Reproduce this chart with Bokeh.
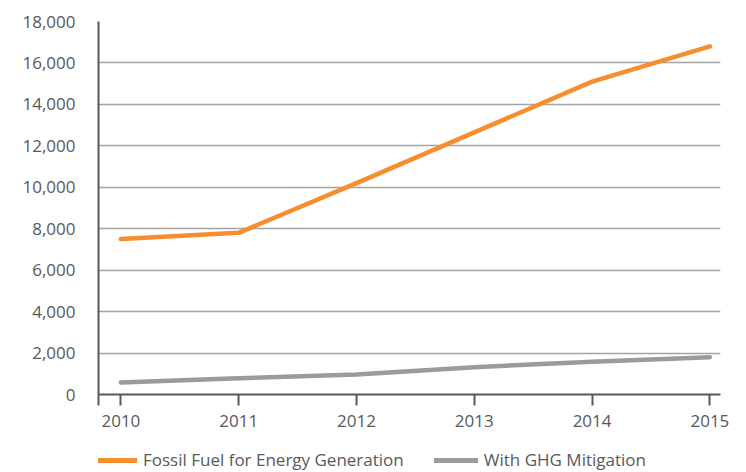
from bokeh.plotting import figure
from bokeh.layouts import column
from bokeh.models import (Range1d, FixedTicker, NumeralTickFormatter, CustomJSTickFormatter,
                          Legend, LegendItem)
from bokeh.embed import file_html
from bokeh.resources import INLINE

years = [2010, 2011, 2012, 2013, 2014, 2015]
fossil = [7500, 7800, 10200, 12650, 15100, 16800]
ghg = [580, 780, 970, 1320, 1580, 1800]
y_ticks = [0, 2000, 4000, 6000, 8000, 10000, 12000, 14000, 16000, 18000]
series_names = ["Fossil Fuel for Energy Generation", "With GHG Mitigation"]

FONT = "Open Sans"
TXT = "#58595b"
ORANGE = "#f68d2e"
GREY = "#9b9b9e"

p = figure(width=746, height=446, output_backend="svg", toolbar_location=None,
           x_range=Range1d(2009.81, 2015.09), y_range=Range1d(0, 18000),
           min_border_left=98, min_border_right=26, min_border_top=21, min_border_bottom=52)
p.outline_line_color = None
p.background_fill_color = "white"
p.border_fill_color = "white"

p.line(years, fossil, line_color=ORANGE, line_width=4.5, line_cap="round", line_join="round")
p.line(years, ghg, line_color=GREY, line_width=4.5, line_cap="round", line_join="round")

# x axis
xa = p.xaxis[0]
xa.ticker = FixedTicker(ticks=[2009.81] + years)
xa.formatter = CustomJSTickFormatter(code="return tick < 2009.9 ? '' : String(Math.round(tick));")
xa.axis_line_color = "#58595b"
xa.axis_line_width = 2
xa.major_tick_line_color = "#58595b"
xa.major_tick_line_width = 2
xa.major_tick_out = 11
xa.major_tick_in = 0
xa.minor_tick_line_color = None
xa.major_label_text_font = FONT
xa.major_label_text_font_size = "17px"
xa.major_label_text_color = TXT
xa.major_label_standoff = 9

# y axis
ya = p.yaxis[0]
ya.ticker = FixedTicker(ticks=y_ticks)
ya.formatter = NumeralTickFormatter(format="0,0")
ya.axis_line_color = "#58595b"
ya.axis_line_width = 2
ya.major_tick_line_color = None
ya.major_tick_out = 0
ya.major_tick_in = 0
ya.minor_tick_line_color = None
ya.major_label_text_font = FONT
ya.major_label_text_font_size = "17px"
ya.major_label_text_color = TXT
ya.major_label_standoff = 23

p.xgrid.grid_line_color = None
p.ygrid.ticker = FixedTicker(ticks=y_ticks)
p.ygrid.grid_line_color = "#a3a3a3"
p.ygrid.grid_line_width = 1.5

# legend strip (its series lie outside its view; only the legend shows)
lg = figure(width=746, height=26, output_backend="svg", toolbar_location=None,
            x_range=Range1d(0, 1), y_range=Range1d(0, 1),
            x_axis_type=None, y_axis_type=None,
            min_border_left=98, min_border_right=26, min_border_top=0, min_border_bottom=0)
lg.outline_line_color = None
lg.grid.grid_line_color = None
l1 = lg.line(years, fossil, line_color=ORANGE, line_width=5, line_cap="round")
l2 = lg.line(years, ghg, line_color=GREY, line_width=5, line_cap="round")
legend = Legend(items=[LegendItem(label=series_names[0], renderers=[l1]),
                       LegendItem(label=series_names[1], renderers=[l2])],
                orientation="horizontal", location=(-5, 1),
                glyph_width=44, glyph_height=14, label_height=14, label_standoff=6, spacing=30,
                padding=0, margin=0, border_line_color=None, background_fill_alpha=0,
                label_text_font=FONT, label_text_font_size="17px", label_text_color=TXT)
lg.add_layout(legend)

layout = column(p, lg, spacing=0)
open("out.html", "w").write(file_html(layout, INLINE))
